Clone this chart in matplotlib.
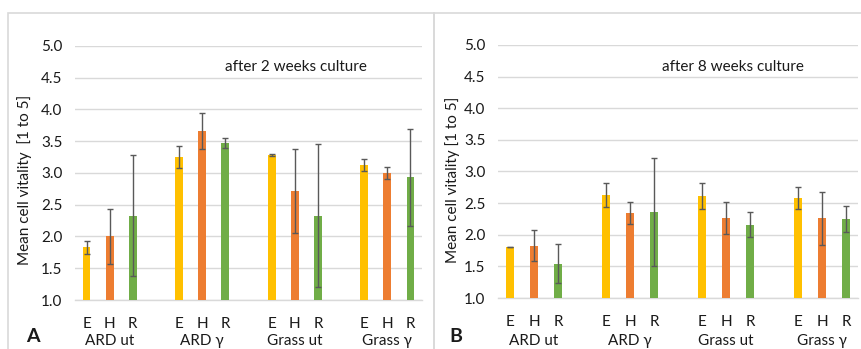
"""Mean cell vitality after 2 and 8 weeks culture (panels A and B)."""

import matplotlib
matplotlib.use("Agg")
import matplotlib.pyplot as plt
import matplotlib.transforms as mtransforms
from matplotlib.patches import Rectangle
import numpy as np

plt.rcParams["font.family"] = ["Lato", "DejaVu Sans"]

groups = ["ARD ut", "ARD γ", "Grass ut", "Grass γ"]
organs = ["E", "H", "R"]

# mean values per group, ordered E, H, R
mean_2w = [[1.83, 2.00, 2.33],
           [3.25, 3.66, 3.47],
           [3.28, 2.72, 2.33],
           [3.13, 3.00, 2.93]]
err_2w = [[0.10, 0.43, 0.95],
          [0.17, 0.28, 0.08],
          [0.02, 0.66, 1.13],
          [0.095, 0.10, 0.76]]

mean_8w = [[1.80, 1.83, 1.54],
           [2.63, 2.34, 2.36],
           [2.61, 2.26, 2.16],
           [2.58, 2.26, 2.25]]
err_8w = [[0.0, 0.25, 0.31],
          [0.19, 0.17, 0.85],
          [0.21, 0.25, 0.20],
          [0.17, 0.42, 0.20]]

titles = ["after 2 weeks culture", "after 8 weeks culture"]
panel_tags = ["A", "B"]
ylabels = ["Mean cell vitality  [1 to 5]", "Mean cell vitality [1 to 5]"]

COLORS = ["#FFC000", "#ED7D31", "#70AD47"]
GRID = "#d9d9d9"
TXT = "#1a1a1a"

fig = plt.figure(figsize=(8.62, 3.49), dpi=100)

# light frames around the two panels
for x0, w in [(8, 426), (434, 440)]:
    fig.patches.append(Rectangle((x0 / 862, -0.1), w / 862, (349 - 13) / 349 + 0.1,
                                 transform=fig.transFigure, fill=False,
                                 edgecolor=GRID, linewidth=1.2))

axes_rects = [(75 / 862, 0.1404, 347 / 862, 0.728),
              (498 / 862, 0.1461, 360 / 862, 0.725)]
title_x = [296 / 862, 733 / 862]
tag_x = [33 / 862, 456 / 862]
ylabel_x = [25 / 862, 453 / 862]

for p, (means, errs) in enumerate([(mean_2w, err_2w), (mean_8w, err_8w)]):
    ax = fig.add_axes(axes_rects[p])
    means = np.array(means)
    errs = np.array(errs)
    centers = np.arange(len(groups)) * 4 + 1
    for k in range(len(organs)):
        xs = centers + (k - 1)
        ax.bar(xs, means[:, k] - 1, bottom=1, width=0.34, color=COLORS[k], zorder=3)
        ax.errorbar(xs, means[:, k], yerr=errs[:, k], fmt="none", ecolor="#595959",
                    elinewidth=1.0, capsize=2.5, capthick=1.0, zorder=4)

    ax.set_xlim(-0.5, 14.5)
    ax.set_ylim(1, 5)
    ax.set_yticks(np.arange(1, 5.01, 0.5))
    ax.set_yticklabels([f"{v:.1f}" for v in np.arange(1, 5.01, 0.5)])
    ticks = np.concatenate([centers + (k - 1) for k in range(3)])
    ax.set_xticks(np.sort(ticks))
    ax.set_xticklabels(organs * len(groups))
    ax.tick_params(axis="both", length=0, labelsize=11, colors=TXT)
    ax.tick_params(axis="x", pad=12)
    ax.tick_params(axis="y", pad=9)
    ax.yaxis.grid(True, color=GRID, linewidth=1.0, zorder=0)
    for s in ["top", "right", "left"]:
        ax.spines[s].set_visible(False)
    ax.spines["bottom"].set_color(GRID)
    ax.spines["bottom"].set_linewidth(1.0)

    trans = mtransforms.blended_transform_factory(ax.transData, fig.transFigure)
    for c, g in zip(centers, groups):
        ax.text(c, 8 / 349, g, transform=trans, ha="center", va="center",
                fontsize=11, color=TXT)

    fig.text(title_x[p], 1 - 67 / 349, titles[p], ha="center", va="center",
             fontsize=11, color=TXT)
    fig.text(tag_x[p], 1 - 336 / 349, panel_tags[p], ha="center", va="center",
             fontsize=14, fontweight="bold", color=TXT)
    fig.text(ylabel_x[p], 1 - 180 / 349, ylabels[p], ha="center", va="center",
             rotation=90, fontsize=11, color=TXT)

fig.savefig("out.png", dpi=100)
